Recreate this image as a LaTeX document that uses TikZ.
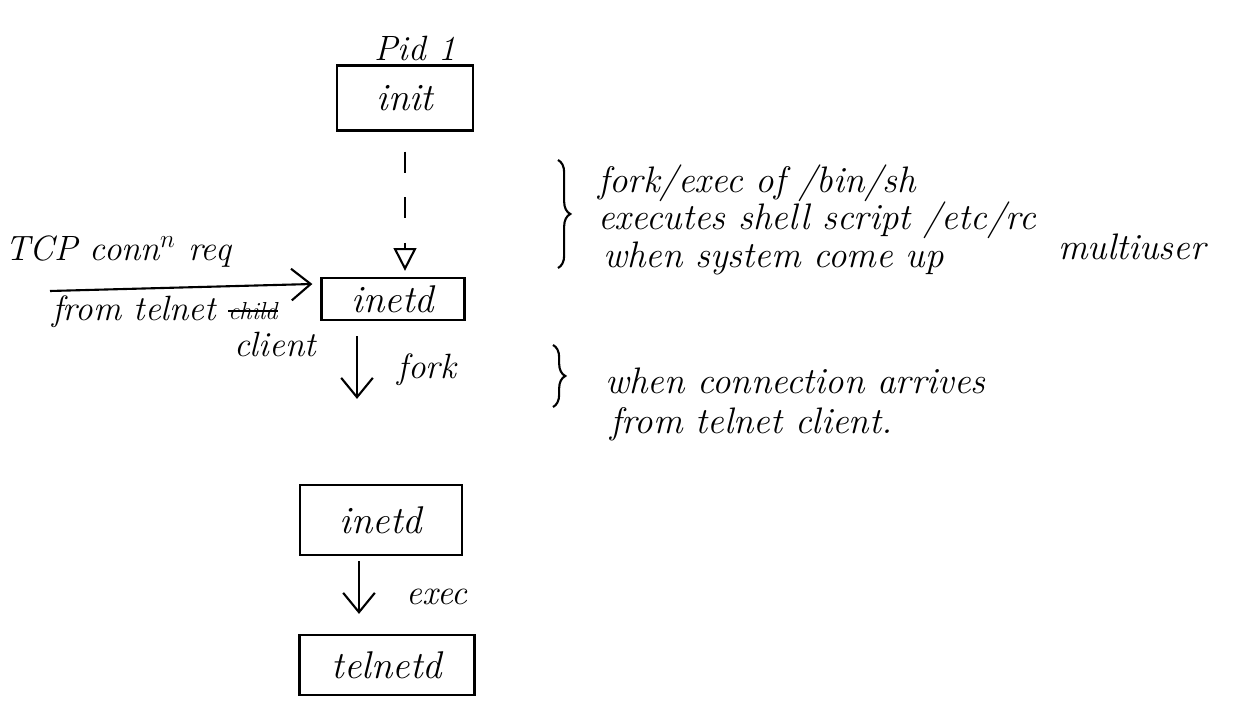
\documentclass[tikz,border=0pt]{standalone}
\usetikzlibrary{arrows.meta,decorations.pathreplacing,calc}
\begin{document}
\begin{tikzpicture}[x=0.02cm,y=-0.02cm,
  proc/.style={draw,line width=1.3pt,inner sep=0pt,font=\fontsize{22}{26}\selectfont\itshape},
  hand/.style={font=\fontsize{21}{25}\selectfont\itshape,inner sep=0pt},
  lbl/.style={font=\fontsize{20}{24}\selectfont\itshape,inner sep=0pt},
  flow/.style={line width=1.2pt,-{Straight Barb[length=11pt,width=18pt]}},
  brc/.style={line width=1.2pt,decorate,decoration={brace,amplitude=7pt}}]
\useasboundingbox (0,0) rectangle (1258,719);
% process boxes
\node[proc,minimum width=2.72cm,minimum height=1.3cm] (init) at (405,98) {init};
\node[proc,minimum width=2.86cm,minimum height=0.84cm] (inetd1) at (393,299) {inetd};
\node[proc,minimum width=3.24cm,minimum height=1.4cm] (inetd2) at (381,520) {inetd};
\node[proc,minimum width=3.5cm,minimum height=1.2cm] (telnetd) at (387,665) {telnetd};
\node[lbl] (pid) at (415,48) {Pid 1};
% dashed connector
\draw[line width=1.2pt,dash pattern=on 12pt off 14pt,-{Triangle[open,length=13pt,width=13pt]},shorten <=0.4cm,shorten >=0.12cm]
  (init.south) -- (init.south |- inetd1.north);
% fork / exec arrows
\coordinate (fx) at (357,0);
\draw[flow,shorten <=0.3cm,shorten >=1.7cm] (inetd1.south -| fx) -- (inetd2.north -| fx);
\node[lbl] (fork) at (427,370) {fork};
\coordinate (ex) at (359,0);
\draw[flow,shorten <=0.1cm,shorten >=0.4cm] (inetd2.south -| ex) -- (telnetd.north -| ex);
\node[lbl] (exec) at (437,597) {exec};
% TCP request
\coordinate (tcp) at (50,291);
\draw[flow] (tcp) -- ($(inetd1.west)+(-8,-15)$);
\node[lbl] (tcpl) at (118,252) {TCP conn$^{n}$ req};
\node[lbl,anchor=west] (from) at (52,312) {from telnet};
\node[lbl,anchor=west,font=\fontsize{14}{16}\selectfont\itshape] (child) at (228,311) {child};
\draw[line width=1pt] (child.west) -- (child.east);
\node[lbl] (client) at (275,344) {client};
% braces and notes
\draw[brc] (558,160) -- (558,268);
\node[hand,anchor=west] (n1) at (598,183) {fork/exec of /bin/sh};
\node[hand,anchor=west] (n2) at (598,220) {executes shell script /etc/rc};
\node[hand,anchor=west] (n3) at (603,258) {when system come up};
\node[hand,anchor=west] (n4) at (1058,247) {multiuser};
\draw[brc] (553,345) -- (553,407);
\node[hand,anchor=west] (m1) at (605,381) {when connection arrives};
\node[hand,anchor=west] (m2) at (610,424) {from telnet client.};
\end{tikzpicture}
\end{document}
